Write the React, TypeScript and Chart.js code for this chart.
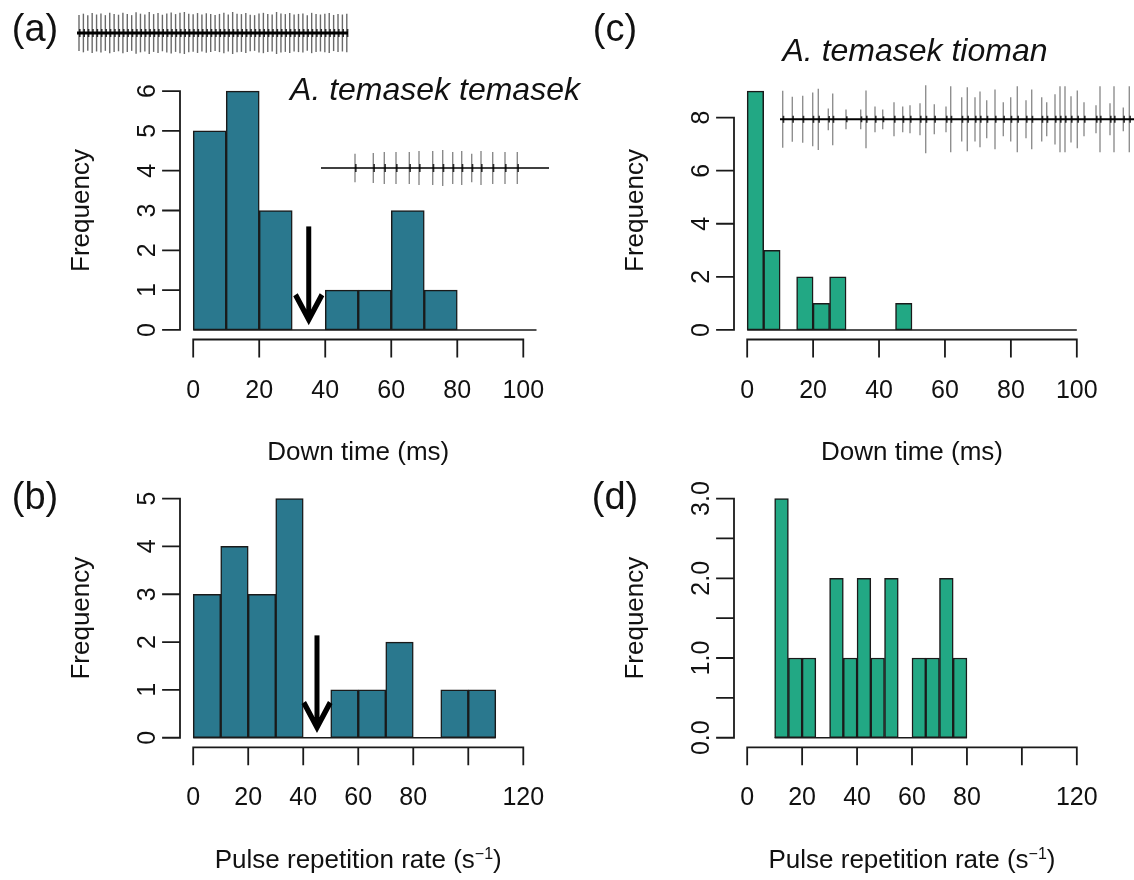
import React, { useEffect, useRef } from "react";
import { Chart, registerables } from "chart.js";

Chart.register(...registerables);

const FONT = '"Liberation Sans", Arial, Helvetica, sans-serif';
const INK = "#111111";
const PAGE_W = 1134;
const PAGE_H = 880;

// ---------- data ----------
// (a) Down time, A. temasek temasek
const downBreaksA = [0, 10, 20, 30, 40, 50, 60, 70, 80, 90, 100, 110];
const downCountsA = [5, 6, 3, 0, 1, 1, 3, 1, 0, 0, 0];
// (c) Down time, A. temasek tioman
const downBreaksC = [0, 5, 10, 15, 20, 25, 30, 35, 40, 45, 50, 55, 60, 65, 70, 75, 80, 85, 90, 95, 100];
const downCountsC = [9, 3, 0, 2, 1, 2, 0, 0, 0, 1, 0, 0, 0, 0, 0, 0, 0, 0, 0, 0];
// (b) Pulse repetition rate, A. temasek temasek
const rateBreaksB = [0, 10, 20, 30, 40, 50, 60, 70, 80, 90, 100, 110];
const rateCountsB = [3, 4, 3, 5, 0, 1, 1, 2, 0, 1, 1];
// (d) Pulse repetition rate, A. temasek tioman
const rateBreaksD = [10, 15, 20, 25, 30, 35, 40, 45, 50, 55, 60, 65, 70, 75, 80];
const rateCountsD = [3, 1, 1, 0, 2, 1, 2, 1, 2, 0, 1, 1, 2, 1];

// axis ticks
const downTicks = [0, 20, 40, 60, 80, 100];
const downTickLabels = ["0", "20", "40", "60", "80", "100"];
const rateTicks = [0, 20, 40, 60, 80, 100, 120];
const rateTickLabels = ["0", "20", "40", "60", "80", "", "120"];
const freqTicksA = [0, 1, 2, 3, 4, 5, 6];
const freqLabelsA = ["0", "1", "2", "3", "4", "5", "6"];
const freqTicksC = [0, 2, 4, 6, 8];
const freqLabelsC = ["0", "2", "4", "6", "8"];
const freqTicksB = [0, 1, 2, 3, 4, 5];
const freqLabelsB = ["0", "1", "2", "3", "4", "5"];
const freqTicksD = [0, 0.5, 1, 1.5, 2, 2.5, 3];
const freqLabelsD = ["0.0", "", "1.0", "", "2.0", "", "3.0"];

// arrows (gap between call types)
const arrowA = { x: 35, from: 2.6, to: 0.12 };
const arrowB = { x: 45, from: 2.14, to: 0.1 };

// oscillogram insets (pulse times in arbitrary ms units, relative amplitudes)
const topTrainAmps = [
  0.86, 0.92, 0.84, 0.95, 0.88, 0.93, 0.85, 0.97, 0.9, 0.87,
  0.96, 0.9, 0.85, 0.99, 0.92, 0.88, 1.0, 0.9, 0.95, 0.87,
  0.93, 0.98, 0.9, 0.96, 1.0, 0.92, 0.89, 0.95, 0.88, 0.94,
  0.9, 0.86, 0.91, 0.96, 0.88, 1.0, 0.92, 0.9, 0.95, 0.87,
  0.85, 0.93, 0.96, 0.9, 0.88, 1.0, 0.93, 0.9, 0.95, 0.88,
  0.91, 0.93, 0.85, 0.96, 0.9, 0.88, 0.92, 0.95, 0.86, 0.9,
  0.88, 0.92,
];
const topTrainPeriod = 4.39;
const topTrainDuration = 271;

const insetTimesA = [34, 52.3, 63.3, 75, 88.3, 98, 111.7, 121.7, 131.7, 140.7, 150.7, 160, 171.7, 184, 196.3];
const insetAmpsA = [0.79, 0.84, 0.89, 0.89, 0.89, 0.95, 0.95, 1, 0.89, 0.95, 0.79, 0.95, 0.89, 0.89, 0.89];
const insetDurationA = 228;

const insetTimesC = [
  2.7, 12.3, 22.7, 32.7, 38.3, 48.3, 52.7, 66, 80.7, 86,
  95, 102.7, 114, 122.7, 130, 140, 145.7, 154.3, 166, 170.7,
  181.7, 187.3, 195, 200, 206.7, 215, 223.3, 230.7, 237.3, 246,
  251.7, 261.7, 266.7, 275, 280, 285, 291, 297.3, 304, 316,
  320, 330, 334, 343.3, 349.3,
];
const insetAmpsC = [
  0.84, 0.66, 0.69, 0.79, 0.9, 0.32, 0.76, 0.29, 0.29, 0.85,
  0.38, 0.29, 0.5, 0.38, 0.41, 0.47, 1.0, 0.44, 0.38, 0.97,
  0.65, 0.94, 0.65, 0.82, 0.56, 0.88, 0.5, 0.65, 0.97, 0.56,
  0.88, 0.65, 0.5, 0.74, 0.97, 0.97, 0.68, 0.85, 0.5, 0.41,
  0.97, 0.47, 0.97, 0.35, 0.97,
];
const insetDurationC = 354;

// ---------- drawing helpers ----------
type Wave = {
  times: number[];
  amps: number[];
  duration: number;
  x0: number;
  x1: number;
  cy: number;
  maxH: number;
  pulseColor: string;
  lineW: number;
  core: number;
};

type Part = { text: string; sup?: boolean };

type PanelCfg = {
  key: string;
  padding: { left: number; right: number; top: number; bottom: number };
  breaks: number[];
  counts: number[];
  color: string;
  xMin: number;
  xMax: number;
  yMin: number;
  yMax: number;
  xTicks: number[];
  xLabels: string[];
  yTicks: number[];
  yLabels: string[];
  xTitle: Part[];
  letter: string;
  letterPos: [number, number];
  title?: { text: string; x: number; y: number };
  arrow?: { x: number; from: number; to: number };
  waves: Wave[];
};

function drawWave(ctx: CanvasRenderingContext2D, w: Wave) {
  const span = w.x1 - w.x0;
  ctx.save();
  ctx.lineCap = "butt";
  ctx.strokeStyle = w.pulseColor;
  ctx.lineWidth = 1.4;
  w.times.forEach((t, i) => {
    const px = w.x0 + (t / w.duration) * span;
    const h = w.amps[i] * w.maxH;
    ctx.beginPath();
    ctx.moveTo(px, w.cy - h);
    ctx.lineTo(px, w.cy + h);
    ctx.stroke();
  });
  ctx.strokeStyle = "#2a2a2a";
  ctx.lineWidth = 1.6;
  w.times.forEach((t, i) => {
    const px = w.x0 + (t / w.duration) * span;
    const h = Math.min(w.core, w.amps[i] * w.maxH * 0.3);
    ctx.beginPath();
    ctx.moveTo(px + 0.8, w.cy - h);
    ctx.lineTo(px + 0.8, w.cy + h);
    ctx.stroke();
  });
  ctx.strokeStyle = "#000";
  ctx.lineWidth = w.lineW;
  ctx.beginPath();
  ctx.moveTo(w.x0, w.cy);
  ctx.lineTo(w.x1, w.cy);
  ctx.stroke();
  ctx.restore();
}

function makePlugin(cfg: PanelCfg) {
  return {
    id: "rstyle" + cfg.key,
    afterDatasetsDraw(chart: any) {
      const { ctx, chartArea } = chart;
      const xs = chart.scales.x;
      const ys = chart.scales.y;
      ctx.save();
      ctx.beginPath();
      ctx.rect(chartArea.left, chartArea.top, chartArea.right - chartArea.left, chartArea.bottom - chartArea.top);
      ctx.clip();
      ctx.strokeStyle = "#1a1a1a";
      ctx.lineWidth = 1.6;
      const y0 = ys.getPixelForValue(0);
      ctx.beginPath();
      ctx.moveTo(xs.getPixelForValue(cfg.breaks[0]), y0);
      ctx.lineTo(xs.getPixelForValue(cfg.breaks[cfg.breaks.length - 1]), y0);
      ctx.stroke();
      ctx.restore();
    },
    afterDraw(chart: any) {
      const { ctx, chartArea } = chart;
      const xs = chart.scales.x;
      const ys = chart.scales.y;
      const L = chartArea.left;
      const B = chartArea.bottom;
      const TICK = 17;
      ctx.save();
      ctx.strokeStyle = "#1a1a1a";
      ctx.fillStyle = INK;
      ctx.lineWidth = 1.8;
      ctx.lineCap = "square";

      // y axis
      const yTop = ys.getPixelForValue(cfg.yTicks[cfg.yTicks.length - 1]);
      const yBot = ys.getPixelForValue(cfg.yTicks[0]);
      ctx.beginPath();
      ctx.moveTo(L, yBot);
      ctx.lineTo(L, yTop);
      cfg.yTicks.forEach((v) => {
        const py = ys.getPixelForValue(v);
        ctx.moveTo(L, py);
        ctx.lineTo(L - TICK, py);
      });
      ctx.stroke();
      ctx.font = `25px ${FONT}`;
      ctx.textAlign = "center";
      ctx.textBaseline = "alphabetic";
      cfg.yTicks.forEach((v, i) => {
        const lab = cfg.yLabels[i];
        if (!lab) return;
        const py = ys.getPixelForValue(v);
        ctx.save();
        ctx.translate(L - 25, py);
        ctx.rotate(-Math.PI / 2);
        ctx.fillText(lab, 0, 0);
        ctx.restore();
      });

      // x axis
      const xl = xs.getPixelForValue(cfg.xTicks[0]);
      const xr = xs.getPixelForValue(cfg.xTicks[cfg.xTicks.length - 1]);
      ctx.beginPath();
      ctx.moveTo(xl, B);
      ctx.lineTo(xr, B);
      cfg.xTicks.forEach((v) => {
        const px = xs.getPixelForValue(v);
        ctx.moveTo(px, B);
        ctx.lineTo(px, B + TICK);
      });
      ctx.stroke();
      cfg.xTicks.forEach((v, i) => {
        const lab = cfg.xLabels[i];
        if (!lab) return;
        ctx.fillText(lab, xs.getPixelForValue(v), B + 58);
      });

      // axis titles
      const cy = (chartArea.top + chartArea.bottom) / 2;
      ctx.font = `26px ${FONT}`;
      ctx.save();
      ctx.translate(L - 91, cy);
      ctx.rotate(-Math.PI / 2);
      ctx.fillText("Frequency", 0, 0);
      ctx.restore();

      const mainFont = `26px ${FONT}`;
      const supFont = `16px ${FONT}`;
      const widths = cfg.xTitle.map((p) => {
        ctx.font = p.sup ? supFont : mainFont;
        return ctx.measureText(p.text).width;
      });
      const total = widths.reduce((a, b) => a + b, 0);
      let tx = (xl + xr) / 2 - total / 2;
      ctx.textAlign = "left";
      cfg.xTitle.forEach((p, i) => {
        ctx.font = p.sup ? supFont : mainFont;
        ctx.fillText(p.text, tx, B + 120.5 - (p.sup ? 9 : 0));
        tx += widths[i];
      });

      // panel letter
      ctx.textAlign = "center";
      ctx.font = `38px ${FONT}`;
      ctx.fillText(cfg.letter, cfg.letterPos[0], cfg.letterPos[1]);

      // species title
      if (cfg.title) {
        ctx.font = `italic 32px ${FONT}`;
        ctx.fillText(cfg.title.text, cfg.title.x, cfg.title.y);
      }

      // arrow
      if (cfg.arrow) {
        const ax = xs.getPixelForValue(cfg.arrow.x);
        const a1 = ys.getPixelForValue(cfg.arrow.from);
        const a2 = ys.getPixelForValue(cfg.arrow.to);
        ctx.strokeStyle = "#000";
        ctx.fillStyle = "#000";
        ctx.lineWidth = 5;
        ctx.lineCap = "butt";
        ctx.beginPath();
        ctx.moveTo(ax, a1);
        ctx.lineTo(ax, a2 - 12);
        ctx.stroke();
        ctx.beginPath();
        ctx.moveTo(ax, a2);
        ctx.lineTo(ax + 15.5, a2 - 29);
        ctx.lineTo(ax + 11, a2 - 32);
        ctx.lineTo(ax + 2.5, a2 - 16);
        ctx.lineTo(ax - 2.5, a2 - 16);
        ctx.lineTo(ax - 11, a2 - 32);
        ctx.lineTo(ax - 15.5, a2 - 29);
        ctx.closePath();
        ctx.fill();
      }

      cfg.waves.forEach((w) => drawWave(ctx, w));
      ctx.restore();
    },
  };
}

// ---------- panels ----------
const topTrainTimes = topTrainAmps.map((_, i) => 2 + i * topTrainPeriod);

const panels: PanelCfg[] = [
  {
    key: "a",
    padding: { left: 180, right: PAGE_W - 536.5, top: 81.5, bottom: PAGE_H - 339.5 },
    breaks: downBreaksA,
    counts: downCountsA,
    color: "#2A788E",
    xMin: -4,
    xMax: 104,
    yMin: -0.24,
    yMax: 6.24,
    xTicks: downTicks,
    xLabels: downTickLabels,
    yTicks: freqTicksA,
    yLabels: freqLabelsA,
    xTitle: [{ text: "Down time (ms)" }],
    letter: "(a)",
    letterPos: [35, 41],
    title: { text: "A. temasek temasek", x: 435, y: 100 },
    arrow: arrowA,
    waves: [
      { times: topTrainTimes, amps: topTrainAmps, duration: topTrainDuration, x0: 77, x1: 348, cy: 33, maxH: 21, pulseColor: "#6a6a6a", lineW: 3, core: 4 },
      { times: insetTimesA, amps: insetAmpsA, duration: insetDurationA, x0: 321, x1: 549, cy: 168, maxH: 18, pulseColor: "#8a8a8a", lineW: 1.6, core: 4 },
    ],
  },
  {
    key: "c",
    padding: { left: 734, right: PAGE_W - 1090, top: 81.5, bottom: PAGE_H - 339.5 },
    breaks: downBreaksC,
    counts: downCountsC,
    color: "#22A884",
    xMin: -4,
    xMax: 104,
    yMin: -0.36,
    yMax: 9.36,
    xTicks: downTicks,
    xLabels: downTickLabels,
    yTicks: freqTicksC,
    yLabels: freqLabelsC,
    xTitle: [{ text: "Down time (ms)" }],
    letter: "(c)",
    letterPos: [615, 41],
    title: { text: "A. temasek tioman", x: 915, y: 61 },
    waves: [
      { times: insetTimesC, amps: insetAmpsC, duration: insetDurationC, x0: 780, x1: 1134, cy: 119.3, maxH: 34, pulseColor: "#8f8f8f", lineW: 2, core: 3.5 },
    ],
  },
  {
    key: "b",
    padding: { left: 180, right: PAGE_W - 536.5, top: 489, bottom: PAGE_H - 747.3 },
    breaks: rateBreaksB,
    counts: rateCountsB,
    color: "#2A788E",
    xMin: -4.8,
    xMax: 124.8,
    yMin: -0.2,
    yMax: 5.2,
    xTicks: rateTicks,
    xLabels: rateTickLabels,
    yTicks: freqTicksB,
    yLabels: freqLabelsB,
    xTitle: [{ text: "Pulse repetition rate (s" }, { text: "\u22121", sup: true }, { text: ")" }],
    letter: "(b)",
    letterPos: [35, 509],
    arrow: arrowB,
    waves: [],
  },
  {
    key: "d",
    padding: { left: 734, right: PAGE_W - 1090, top: 489, bottom: PAGE_H - 747.3 },
    breaks: rateBreaksD,
    counts: rateCountsD,
    color: "#22A884",
    xMin: -4.8,
    xMax: 124.8,
    yMin: -0.12,
    yMax: 3.12,
    xTicks: rateTicks,
    xLabels: rateTickLabels,
    yTicks: freqTicksD,
    yLabels: freqLabelsD,
    xTitle: [{ text: "Pulse repetition rate (s" }, { text: "\u22121", sup: true }, { text: ")" }],
    letter: "(d)",
    letterPos: [615, 509],
    waves: [],
  },
];

function Panel({ cfg }: { cfg: PanelCfg }) {
  const ref = useRef<HTMLCanvasElement>(null);
  useEffect(() => {
    if (!ref.current) return;
    const bins = cfg.counts.map((c, i) => ({ x: (cfg.breaks[i] + cfg.breaks[i + 1]) / 2, y: c }));
    const chart = new Chart(ref.current, {
      type: "bar",
      data: {
        datasets: [
          {
            data: bins as any,
            backgroundColor: cfg.color,
            borderColor: "#1a1a1a",
            borderWidth: 1.5,
            borderSkipped: false,
            barPercentage: 1,
            categoryPercentage: 1,
          } as any,
        ],
      },
      options: {
        animation: false,
        responsive: false,
        events: [],
        layout: { padding: cfg.padding },
        plugins: {
          legend: { display: false },
          tooltip: { enabled: false },
          title: { display: false },
        },
        scales: {
          x: {
            type: "linear",
            min: cfg.xMin,
            max: cfg.xMax,
            offset: false,
            display: false,
            grid: { offset: false },
            afterBuildTicks: (s: any) => {
              s.ticks = cfg.breaks.map((v) => ({ value: v }));
            },
          },
          y: { type: "linear", min: cfg.yMin, max: cfg.yMax, display: false },
        },
      },
      plugins: [makePlugin(cfg)],
    });
    return () => chart.destroy();
  }, [cfg]);
  return (
    <canvas
      ref={ref}
      width={PAGE_W}
      height={PAGE_H}
      style={{ position: "absolute", left: 0, top: 0, width: PAGE_W, height: PAGE_H }}
    />
  );
}

export default function App() {
  return (
    <div style={{ position: "absolute", left: 0, top: 0, width: PAGE_W, height: PAGE_H, background: "#ffffff", overflow: "hidden" }}>
      {panels.map((p) => (
        <Panel key={p.key} cfg={p} />
      ))}
    </div>
  );
}
